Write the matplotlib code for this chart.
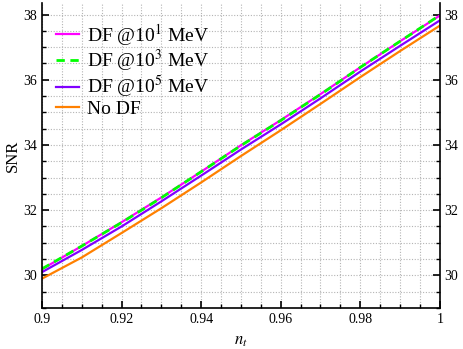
import matplotlib.pyplot as plt
from matplotlib.ticker import MultipleLocator

plt.rcParams['font.family'] = ['Liberation Serif', 'DejaVu Serif']
plt.rcParams['mathtext.fontset'] = 'stix'

n_t = [0.90, 0.91, 0.92, 0.93, 0.94, 0.95, 0.96, 0.97, 0.98, 0.99, 1.00]
snr_df1 = [30.19, 30.90, 31.63, 32.39, 33.18, 33.99, 34.76, 35.56, 36.38, 37.18, 37.97]
snr_df3 = [30.20, 30.90, 31.62, 32.38, 33.18, 33.98, 34.75, 35.55, 36.38, 37.18, 37.98]
snr_df5 = [30.10, 30.78, 31.50, 32.27, 33.06, 33.86, 34.63, 35.43, 36.25, 37.04, 37.82]
snr_nodf = [29.90, 30.55, 31.30, 32.06, 32.85, 33.66, 34.45, 35.26, 36.08, 36.88, 37.66]

fig = plt.figure(figsize=(4.63, 3.49), dpi=100)
ax = fig.add_axes([0.0907, 0.1175, 0.8593, 0.8735])

ax.plot(n_t, snr_df1, color='#ff00ff', lw=1.6, label='DF @10$^1$ MeV')
ax.plot(n_t, snr_df3, color='#00ff00', lw=2.0, ls=(0, (3, 2)), label='DF @10$^3$ MeV')
ax.plot(n_t, snr_df5, color='#8000ff', lw=1.6, label='DF @10$^5$ MeV')
ax.plot(n_t, snr_nodf, color='#ff8000', lw=1.6, label='No DF')

ax.set_xlim(0.9, 1.0)
ax.set_ylim(29, 38.35)
ax.xaxis.set_major_locator(MultipleLocator(0.02))
ax.xaxis.set_minor_locator(MultipleLocator(0.005))
ax.yaxis.set_major_locator(MultipleLocator(2))
ax.yaxis.set_minor_locator(MultipleLocator(0.5))
ax.set_xticks([0.9, 0.92, 0.94, 0.96, 0.98, 1.0])
ax.set_xticklabels(['0.9', '0.92', '0.94', '0.96', '0.98', '1'])

ax.grid(True, which='both', color='#b4b4b4', ls=(0, (1, 1.5)), lw=0.8)
ax.tick_params(which='both', direction='in', right=True, labelright=True, labelsize=10)
ax.tick_params(which='major', length=5, width=1.2)
ax.tick_params(which='minor', length=3, width=1)
ax.spines['top'].set_visible(False)
for s in ['left', 'right', 'bottom']:
    ax.spines[s].set_linewidth(1.2)

ax.set_xlabel('$n_t$', fontsize=12, labelpad=5)
ax.set_ylabel('SNR', fontsize=12, labelpad=2)

ax.legend(loc='upper left', frameon=False, fontsize=14, handlelength=1.15,
          handletextpad=0.45, labelspacing=0.0, borderaxespad=0.4,
          bbox_to_anchor=(-0.003, 0.99))

fig.savefig('out.png', dpi=100)
